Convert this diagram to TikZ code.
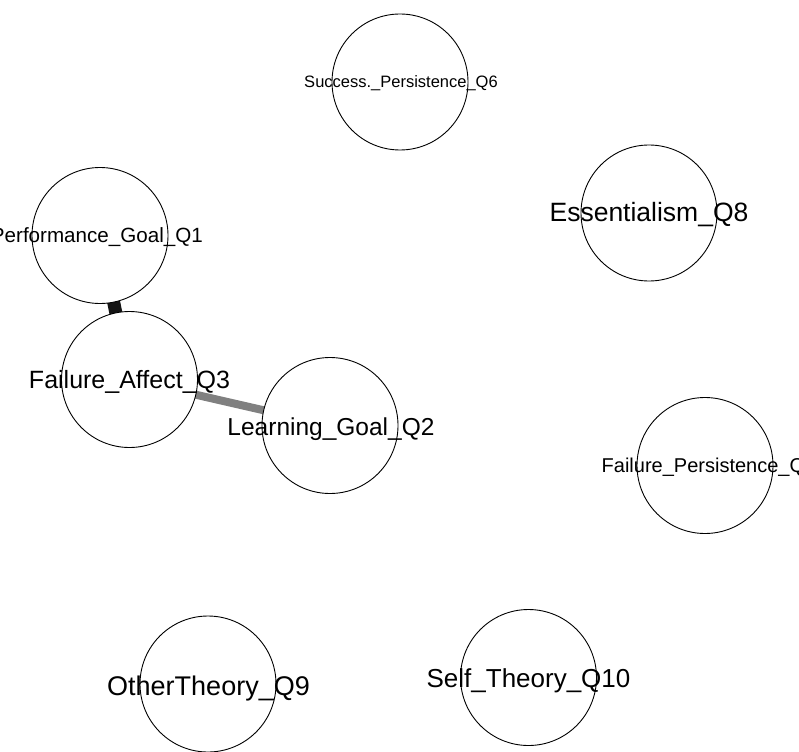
\documentclass[tikz,border=0pt]{standalone}
\usepackage{fontspec}
\setmainfont{Liberation Sans}
\usetikzlibrary{backgrounds}
\begin{document}
\begin{tikzpicture}[x=1pt,y=-1pt,
  vnode/.style={circle,draw=black,line width=0.9pt,fill=white,minimum size=136pt,inner sep=0pt},
  vlabel/.style={inner sep=0pt,text=black},
  strongedge/.style={line width=13pt,draw=black!92},
  midedge/.style={line width=8pt,draw=black!50}]
\useasboundingbox (0,0) rectangle (799,751);
\clip (0,0) rectangle (799,751);
% nodes
\node[vnode] (q6) at (400,82) {};
\node[vnode] (q8) at (649,213) {};
\node[vnode] (q1) at (100,235.5) {};
\node[vnode] (q3) at (129.5,379.5) {};
\node[vnode] (q2) at (330,425.5) {};
\node[vnode] (q7) at (705,465.5) {};
\node[vnode] (q9) at (208,684) {};
\node[vnode] (q10) at (528.5,677.5) {};
% edges
\begin{pgfonlayer}{background}
\draw[strongedge] (q1.center) -- (q3.center);
\draw[midedge] (q3.center) -- (q2.center);
\end{pgfonlayer}
% labels
\node[vlabel,anchor=base] (l6) at (401,87.3) {\fontsize{16.5}{19}\selectfont Success.\_Persistence\_Q6};
\node[vlabel,anchor=base east] (l1) at (203,242.3) {\fontsize{20.6}{24}\selectfont Performance\_Goal\_Q1};
\node[vlabel,anchor=base] (l8) at (649,221.7) {\fontsize{26.5}{31}\selectfont Essentialism\_Q8};
\node[vlabel,anchor=base] (l3) at (129.5,388) {\fontsize{25}{30}\selectfont Failure\_Affect\_Q3};
\node[vlabel,anchor=base] (l2) at (331,435) {\fontsize{24.5}{29}\selectfont Learning\_Goal\_Q2};
\node[vlabel,anchor=base west] (l7) at (601.5,472.7) {\fontsize{20}{24}\selectfont Failure\_Persistence\_Q};
\node[vlabel,anchor=base] (l9) at (208.5,695) {\fontsize{27}{32}\selectfont OtherTheory\_Q9};
\node[vlabel,anchor=base] (l10) at (528.5,687) {\fontsize{26}{31}\selectfont Self\_Theory\_Q10};
\end{tikzpicture}
\end{document}
